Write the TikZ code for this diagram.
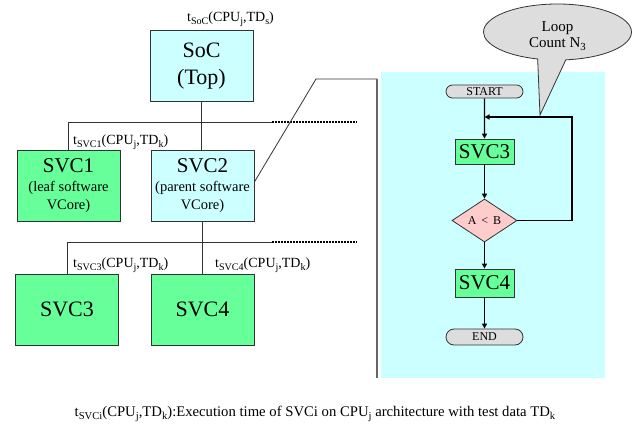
\documentclass[tikz,border=0pt]{standalone}
\usepackage{fontspec}
\usepackage{graphicx}
\setmainfont{Liberation Serif}
\usetikzlibrary{arrows.meta,shapes.geometric,shapes.misc,shapes.callouts}
\definecolor{panelcyan}{HTML}{CCFFFF}
\definecolor{vcgreen}{HTML}{66FF99}
\definecolor{condpink}{HTML}{FFCCCC}
\definecolor{termgray}{HTML}{DDDDDD}
\definecolor{edge}{HTML}{333333}
% lowered, reduced text for subscripts
\newcommand\lo[1]{\raisebox{-0.45ex}{\scalebox{0.72}{#1}}}
\newcommand\fs[1]{\fontsize{#1}{#1}\selectfont}
\newcommand\fsl[2]{\fontsize{#1}{#2}\selectfont}
\begin{document}
\begin{tikzpicture}[x=1pt,y=-1pt,
  vbox/.style={draw=edge, line width=0.8pt, minimum width=103pt, minimum height=71pt,
    inner sep=0pt, align=center},
  hwbox/.style={vbox, fill=panelcyan},
  swbox/.style={vbox, fill=vcgreen},
  smalllines/.style={font=\fsl{14.5}{17.5}},
  tlabel/.style={anchor=base west, inner sep=0pt, font=\fs{14}},
  tree/.style={draw=edge, line width=0.8pt},
  busdash/.style={draw=black, line width=1.3pt, dash pattern=on 2pt off 1pt},
  sepline/.style={draw=gray!80!black, line width=1.3pt},
  flow/.style={draw=black, line width=1.4pt, -{Triangle[length=5pt,width=5pt]}},
  fstep/.style={draw=edge, line width=0.8pt, fill=vcgreen, inner sep=0pt,
    minimum width=59pt, font=\fs{21}},
  term/.style={draw=edge, line width=0.8pt, fill=termgray, rounded rectangle,
    inner sep=0pt, minimum width=77pt, font=\fs{12}},
]
\useasboundingbox (0,0) rectangle (637,435);

% flowchart panel
\fill[panelcyan] (381,72) rectangle (605,378);

% hierarchy of virtual cores
\node[hwbox, font=\fsl{22}{27}] (soc) at (201.5,66) {SoC\\(Top)};
\node[swbox, smalllines] (svc1) at (68.5,185.5)
  {{\fs{21}SVC1}\\[2pt](leaf software\\VCore)};
\node[hwbox, smalllines] (svc2) at (202.5,185.5)
  {{\fs{21}SVC2}\\[2pt](parent software\\VCore)};
\node[swbox, font=\fs{22}] (svc3) at (67,309.5) {SVC3};
\node[swbox, font=\fs{22}] (svc4) at (202.5,309.5) {SVC4};

\node[tlabel] (lsoc) at (187,22) {t\lo{SoC}(CPU\lo{j},TD\lo{s})};
\node[tlabel] (lsvc1) at (73,145) {t\lo{SVC1}(CPU\lo{j},TD\lo{k})};
\node[tlabel] (lsvc3) at (73,268) {t\lo{SVC3}(CPU\lo{j},TD\lo{k})};
\node[tlabel] (lsvc4) at (215,268) {t\lo{SVC4}(CPU\lo{j},TD\lo{k})};

\coordinate (bus1) at (272,122);
\coordinate (bus1end) at (357,122);
\coordinate (bus2) at (272,242);
\coordinate (bus2end) at (357,242);

\draw[tree] (soc.south) -- (soc.south |- svc2.north);
\draw[tree] (svc1.north) |- (bus1);
\draw[busdash] (bus1) -- (bus1end);
\draw[tree] (svc2.south) -- (svc4.north);
\draw[tree] (svc3.north) |- (bus2);
\draw[busdash] (bus2) -- (bus2end);

% zoom bracket from SVC2 to its flowchart
\coordinate (kneeA) at (316,79);
\coordinate (kneeB) at (377,79);
\coordinate (kneeC) at (377,378);
\draw[tree] ([yshift=3.5pt]svc2.east) -- (kneeA) -- (kneeB);
\draw[sepline] (kneeB) -- (kneeC);

% flowchart of SVC2
\node[term, minimum height=13pt] (start) at (484.5,91.5) {START};
\node[fstep, minimum height=25pt] (fsvc3) at (484.5,151.5) {SVC3};
\node[diamond, draw=edge, line width=0.8pt, fill=condpink, inner sep=0pt,
  minimum width=65pt, minimum height=43pt, font=\fs{12}] (cond) at (484.5,220.5) {A \,<\, B};
\node[fstep, minimum height=28pt] (fsvc4) at (484.5,283) {SVC4};
\node[term, minimum height=16pt] (stop) at (484.5,337) {END};

\coordinate (merge) at (484.5,117);
\coordinate (loopcorner) at (572,117);

\draw[flow] (start) -- (fsvc3);
\draw[flow] (fsvc3) -- (cond);
\draw[flow] (cond) -- (fsvc4);
\draw[flow] (fsvc4) -- (stop);
\draw[flow] (cond.east) -| (loopcorner) -- (merge);

% loop count annotation
\coordinate (tip) at (540,115);
\node[ellipse callout, callout absolute pointer={(tip)}, callout pointer arc=22,
  draw=edge, line width=0.8pt, fill=termgray, minimum width=148pt, minimum height=56pt,
  inner sep=0pt, align=center, font=\fsl{15}{16}] (note) at (557.5,32)
  {\rule{0pt}{19pt}Loop\\Count N\lo{3}};

% legend
\node[anchor=base, inner sep=0pt, font=\fs{14.7}] (legend) at (315,416)
  {t\lo{SVCi}(CPU\lo{j},TD\lo{k}):Execution time of SVCi on CPU\lo{j} architecture with test data TD\lo{k}};
\end{tikzpicture}
\end{document}
